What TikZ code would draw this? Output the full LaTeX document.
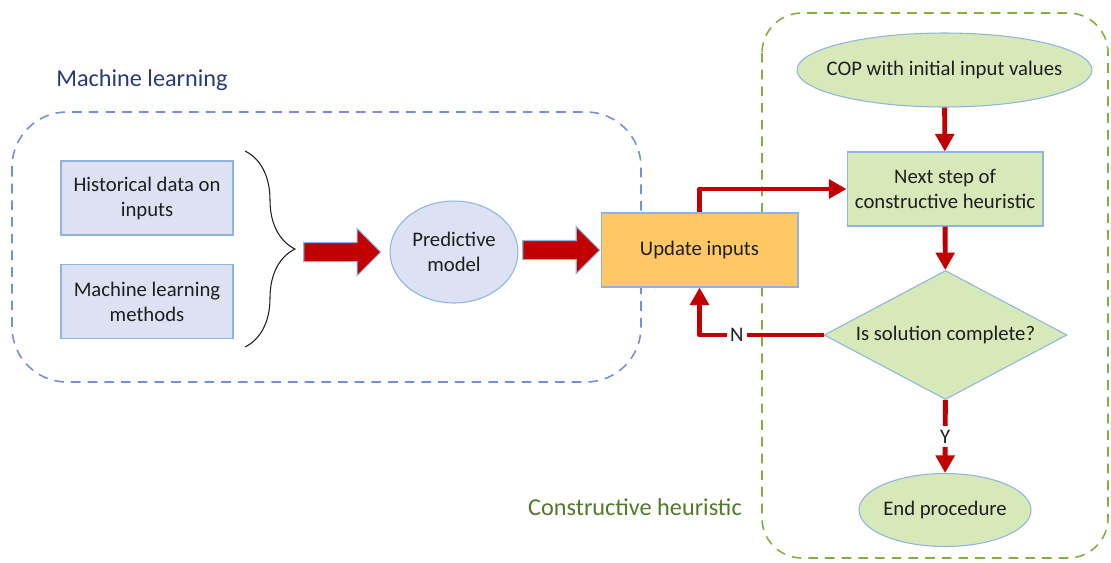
\documentclass[tikz,border=0pt]{standalone}
\usepackage{fontspec}
\setmainfont{Carlito}
\usepackage{xcolor}
\usepackage{tikz}
\usetikzlibrary{positioning, arrows.meta, shapes.geometric, shapes.arrows, decorations.pathreplacing}

\definecolor{azulborda}{RGB}{141,180,226}
\definecolor{azulfundo}{RGB}{220,226,244}
\definecolor{azultraco}{RGB}{112,146,220}
\definecolor{azultitulo}{RGB}{40,58,122}
\definecolor{verdefundo}{RGB}{215,233,185}
\definecolor{verdetraco}{RGB}{128,176,64}
\definecolor{verdetitulo}{RGB}{80,122,40}
\definecolor{laranja}{RGB}{255,200,100}
\definecolor{vermelho}{RGB}{192,0,0}
\definecolor{texto}{RGB}{30,30,30}

\begin{document}
\begin{tikzpicture}[
  x=0.02cm, y=-0.02cm,
  font=\fontsize{11.8}{14.2}\selectfont,
  caixa/.style = {draw=azulborda, line width=0.6pt, fill=azulfundo, align=center, text=texto, minimum width=3.44cm, minimum height=1.48cm, inner sep=0pt},
  oval/.style = {caixa, ellipse},
  decisao/.style = {caixa, diamond, aspect=1.88, fill=verdefundo, minimum width=4.86cm, minimum height=2.58cm},
  grupo/.style = {dash pattern=on 5.5pt off 4pt, line width=0.9pt},
  titulo/.style = {font=\fontsize{13.8}{16}\selectfont},
  seta/.style = {-{Triangle[length=10pt, width=10.5pt]}, line width=2.8pt, vermelho, line join=round},
  setagrande/.style = {single arrow, draw=azulborda, line width=0.6pt, fill=vermelho, minimum width=0.92cm, minimum height=1.54cm, single arrow head extend=0.28cm, inner xsep=0pt, inner ysep=0.18cm},
  rotulo/.style = {fill=white, text=texto, inner sep=2pt},
]
\useasboundingbox (0,0) rectangle (1111,562);
% grupos tracejados
\draw[grupo, azultraco, rounded corners=1.1cm] (12,112) rectangle (641,382);
\draw[grupo, verdetraco, rounded corners=0.8cm] (762,13) rectangle (1108,558);
\node[titulo, text=azultitulo] (tituloml) at (142,80) {Machine learning};
\node[titulo, text=verdetitulo] (titulock) at (635,507) {Constructive heuristic};

% aprendizado de maquina
\node[caixa] (hist) at (147,198) {Historical data on\\inputs};
\node[caixa] (metodos) at (147,301.5) {Machine learning\\methods};
\draw[decorate, decoration={brace, amplitude=1cm}, line width=0.6pt, texto] (245,151) -- (245,347);
\coordinate (chave) at (295,251);
\node[oval, minimum width=2.56cm, minimum height=2.04cm] (pred) at (454,252) {Predictive\\model};
\node[caixa, fill=laranja, minimum width=3.94cm] (atualiza) at (699.5,250) {Update inputs};
\node[setagrande, left=0.16cm of pred] (seta1) {};
\node[setagrande, left=0cm of atualiza] (seta2) {};

% heuristica construtiva
\node[oval, fill=verdefundo, minimum width=5.9cm, inner xsep=-0.29cm] (cop) at (944.5,70) {COP with initial input values};
\node[caixa, fill=verdefundo, minimum width=3.92cm] (passo) at (945,189) {Next step of\\constructive heuristic};
\node[decisao] (completa) at (945.5,335) {Is solution complete?};
\node[oval, fill=verdefundo, minimum height=1.46cm, inner xsep=-0.06cm] (fim) at (945,510) {End procedure};

\draw[seta] (cop) -- (passo);
\draw[seta] (passo) -- (completa);
\draw[seta] (atualiza.north) |- (passo.west);
\draw[seta] (completa.west) -| node[rotulo, pos=0.35] {N} (atualiza.south);
\draw[seta] (completa) -- node[rotulo] {Y} (fim);
\end{tikzpicture}
\end{document}
